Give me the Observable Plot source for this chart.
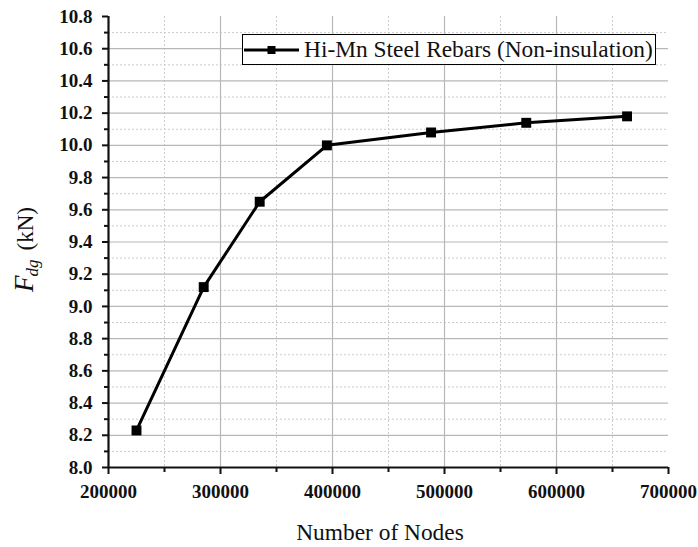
<!DOCTYPE html>
<html>
<head>
<meta charset="utf-8">
<script src="https://cdn.jsdelivr.net/npm/d3@7"></script>
<script src="https://cdn.jsdelivr.net/npm/@observablehq/plot@0.6"></script>
<style>
  html, body { margin: 0; padding: 0; background: #fff; }
  #wrap { position: relative; width: 698px; height: 547px; font-family: "Liberation Serif", "Times New Roman", serif; }
  #legend {
    position: absolute; left: 242px; top: 34px; width: 412px; height: 29px;
    border: 1.5px solid #000; background: #fff; box-sizing: content-box;
    display: flex; align-items: center; font-size: 23.4px; color: #111; white-space: nowrap;
  }
  #legend svg { margin-left: 1px; margin-right: 5px; flex: none; }
</style>
</head>
<body>
<div id="wrap">
  <div id="legend"></div>
</div>
<script>
// Mesh convergence: failure load vs. number of mesh nodes
const seriesName = "Hi-Mn Steel Rebars (Non-insulation)";
const nodes = [225000, 285000, 335000, 395000, 488000, 573000, 663000];
const loadKN = [8.23, 9.12, 9.65, 10.00, 10.08, 10.14, 10.18];

const xTicks = [200000, 300000, 400000, 500000, 600000, 700000];
const xMinor = [250000, 350000, 450000, 550000, 650000];
const yTicks = [8.0, 8.2, 8.4, 8.6, 8.8, 9.0, 9.2, 9.4, 9.6, 9.8, 10.0, 10.2, 10.4, 10.6, 10.8];
const yMinor = [8.1, 8.3, 8.5, 8.7, 8.9, 9.1, 9.3, 9.5, 9.7, 9.9, 10.1, 10.3, 10.5, 10.7];

const xLabel = "Number of Nodes";

const data = nodes.map((n, i) => ({nodes: n, load: loadKN[i]}));

const font = "Liberation Serif, Times New Roman, serif";
const inner = (arr, lo, hi) => arr.filter(v => v > lo && v < hi);

const chart = Plot.plot({
  width: 698,
  height: 547,
  marginLeft: 108,
  marginRight: 30,
  marginTop: 16,
  marginBottom: 80,
  x: {domain: [200000, 700000]},
  y: {domain: [8, 10.8]},
  style: {fontFamily: font, background: "white", color: "#111", overflow: "visible"},
  marks: [
    // minor (dotted) and major (solid) grid
    Plot.gridY(yMinor, {stroke: "#cccccc", strokeOpacity: 1, strokeWidth: 1, strokeDasharray: "2,2"}),
    Plot.gridX(xMinor, {stroke: "#cccccc", strokeOpacity: 1, strokeWidth: 1, strokeDasharray: "2,2"}),
    Plot.gridY(inner(yTicks, 8, 10.8), {stroke: "#b8b8b8", strokeOpacity: 1, strokeWidth: 1.2}),
    Plot.gridX(inner(xTicks, 200000, 700000), {stroke: "#b8b8b8", strokeOpacity: 1, strokeWidth: 1.2}),
    // axes
    Plot.axisY(yTicks, {tickFormat: d3.format(".1f"), tickSize: 6, tickPadding: 10, strokeWidth: 2,
      fontSize: 19, fontWeight: "bold", label: null}),
    Plot.axisY(yMinor, {tickFormat: () => "", tickSize: 4, strokeWidth: 2, label: null}),
    Plot.axisX(xTicks, {tickFormat: d3.format("d"), tickSize: 7, tickPadding: 10, strokeWidth: 2,
      fontSize: 19, fontWeight: "bold", label: null}),
    Plot.axisX(xMinor, {tickFormat: () => "", tickSize: 5, strokeWidth: 2, label: null}),
    Plot.ruleX([200000], {stroke: "#111", strokeWidth: 2.2}),
    Plot.ruleY([8], {stroke: "#111", strokeWidth: 2.2}),
    // series
    Plot.line(data, {x: "nodes", y: "load", stroke: "#000", strokeWidth: 3}),
    Plot.dot(data, {x: "nodes", y: "load", symbol: "square", r: 5.6, fill: "#000", stroke: "none"})
  ]
});

const wrap = document.getElementById("wrap");
wrap.insertBefore(chart, wrap.firstChild);

const svg = d3.select(chart);

// x-axis title
svg.append("text")
  .attr("x", 380).attr("y", 540)
  .attr("text-anchor", "middle")
  .attr("font-family", font)
  .attr("font-size", 23.4)
  .attr("fill", "#111")
  .text(xLabel);

// y-axis title: F_dg (kN)
const yt = svg.append("text")
  .attr("transform", "translate(33,292) rotate(-90)")
  .attr("text-anchor", "start")
  .attr("font-family", font)
  .attr("font-size", 23)
  .attr("fill", "#111");
yt.append("tspan").attr("font-style", "italic").attr("font-size", 27).text("F");
yt.append("tspan").attr("font-style", "italic").attr("font-size", 17).attr("dy", 5).attr("dx", -1).text("dg");
yt.append("tspan").attr("dy", -5).attr("dx", 9).text("(kN)");

// legend
const legend = d3.select("#legend");
const ls = legend.append("svg").attr("width", 55).attr("height", 14);
ls.append("line").attr("x1", 0).attr("x2", 55).attr("y1", 7).attr("y2", 7)
  .attr("stroke", "#000").attr("stroke-width", 3);
ls.append("rect").attr("x", 23.5).attr("y", 3).attr("width", 8).attr("height", 8).attr("fill", "#000");
legend.append("span").text(seriesName);
</script>
</body>
</html>
